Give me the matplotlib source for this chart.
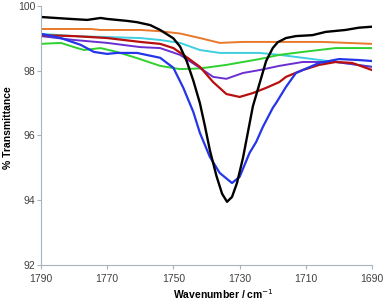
import matplotlib.pyplot as plt

plt.rcParams['font.family'] = ['Liberation Sans', 'DejaVu Sans']

# (wavenumber, % transmittance)
black_x = [1790, 1781, 1776, 1772, 1770, 1764, 1761, 1757, 1754, 1750, 1748, 1746, 1744, 1742, 1740.5,
           1739, 1737, 1735.3, 1733.8, 1732.3, 1730.8, 1729, 1727.5, 1726, 1724, 1722, 1720, 1718.5, 1716,
           1713, 1708, 1704, 1698, 1694, 1690]
black_y = [99.66, 99.6, 99.57, 99.63, 99.6, 99.54, 99.5, 99.41, 99.26, 99.0, 98.75, 98.3, 97.7, 97.0, 96.3,
           95.55, 94.75, 94.2, 93.95, 94.1, 94.53, 95.3, 96.1, 96.9, 97.6, 98.3, 98.7, 98.88, 99.01,
           99.07, 99.1, 99.2, 99.26, 99.33, 99.36]

orange_x = [1790, 1775, 1772, 1760, 1754, 1748, 1742, 1736, 1729, 1718, 1705, 1690]
orange_y = [99.29, 99.29, 99.26, 99.26, 99.22, 99.15, 99.01, 98.86, 98.89, 98.89, 98.89, 98.83]

cyan_x = [1790, 1780, 1770, 1760, 1754, 1748, 1742, 1736, 1729, 1724, 1718, 1711, 1701, 1690]
cyan_y = [99.14, 99.07, 99.04, 99.01, 98.95, 98.86, 98.64, 98.55, 98.55, 98.55, 98.49, 98.4, 98.27, 98.12]

green_x = [1790, 1784, 1780, 1777, 1772, 1767, 1761, 1754, 1748, 1742, 1734, 1729, 1724, 1718, 1711, 1701, 1690]
green_y = [98.83, 98.86, 98.73, 98.64, 98.7, 98.58, 98.39, 98.15, 98.05, 98.07, 98.18, 98.27, 98.36, 98.49, 98.58, 98.7, 98.7]

red_x = [1790, 1780, 1770, 1760, 1754, 1750, 1746, 1742, 1738, 1734, 1730, 1726, 1722, 1718, 1716, 1711,
         1706, 1701, 1696, 1690]
red_y = [99.1, 99.07, 99.01, 98.89, 98.83, 98.7, 98.42, 98.12, 97.65, 97.28, 97.19, 97.31, 97.47, 97.65, 97.81, 98.02,
         98.18, 98.27, 98.24, 98.02]

purple_x = [1790, 1780, 1770, 1760, 1754, 1748, 1742, 1738, 1734, 1729, 1724, 1718, 1711, 1701, 1690]
purple_y = [99.07, 98.95, 98.86, 98.73, 98.7, 98.49, 98.09, 97.81, 97.75, 97.93, 98.02, 98.15, 98.27, 98.27, 98.12]

blue_x = [1790, 1784, 1778, 1774, 1770, 1767, 1761, 1754, 1750, 1747, 1744, 1742, 1739, 1736, 1732.3,
          1730, 1727, 1725, 1723, 1720, 1719, 1716, 1713, 1706, 1700, 1694, 1690]
blue_y = [99.14, 99.01, 98.8, 98.58, 98.52, 98.55, 98.55, 98.4, 98.09, 97.47, 96.73, 96.08, 95.34, 94.84, 94.53,
          94.72, 95.46, 95.8, 96.26, 96.85, 97.0, 97.5, 97.93, 98.24, 98.36, 98.33, 98.3]

fig = plt.figure(figsize=(3.86, 3.0), dpi=100)
ax = fig.add_axes([0.106, 0.117, 0.858, 0.863])

ax.plot(orange_x, orange_y, color='#E8782A', lw=1.4)
ax.plot(cyan_x, cyan_y, color='#3FCFE0', lw=1.4)
ax.plot(green_x, green_y, color='#2ED12E', lw=1.4)
ax.plot(purple_x, purple_y, color='#6A2FD0', lw=1.4)
ax.plot(red_x, red_y, color='#B80F0F', lw=1.6)
ax.plot(blue_x, blue_y, color='#2436E8', lw=1.6)
ax.plot(black_x, black_y, color='black', lw=1.7)

ax.set_xlim(1790, 1690)
ax.set_ylim(92, 100)
ax.set_xticks([1790, 1770, 1750, 1730, 1710, 1690])
ax.set_yticks([92, 94, 96, 98, 100])

for s in ['top', 'right']:
    ax.spines[s].set_visible(False)
for s in ['left', 'bottom']:
    ax.spines[s].set_color('#A6B4C0')
    ax.spines[s].set_linewidth(0.8)
ax.tick_params(axis='both', colors='#A6B4C0', length=3, width=0.8, labelsize=7.5, labelcolor='#404040')
ax.tick_params(axis='y', pad=1)

ax.set_ylabel('% Transmittance', fontsize=7.5, fontweight='bold')
ax.yaxis.set_label_coords(-0.085, 0.53)
ax.set_xlabel('Wavenumber / cm$^{-1}$', fontsize=7.5, fontweight='bold')
ax.xaxis.set_label_coords(0.55, -0.085)

fig.savefig('out.png', dpi=100)
